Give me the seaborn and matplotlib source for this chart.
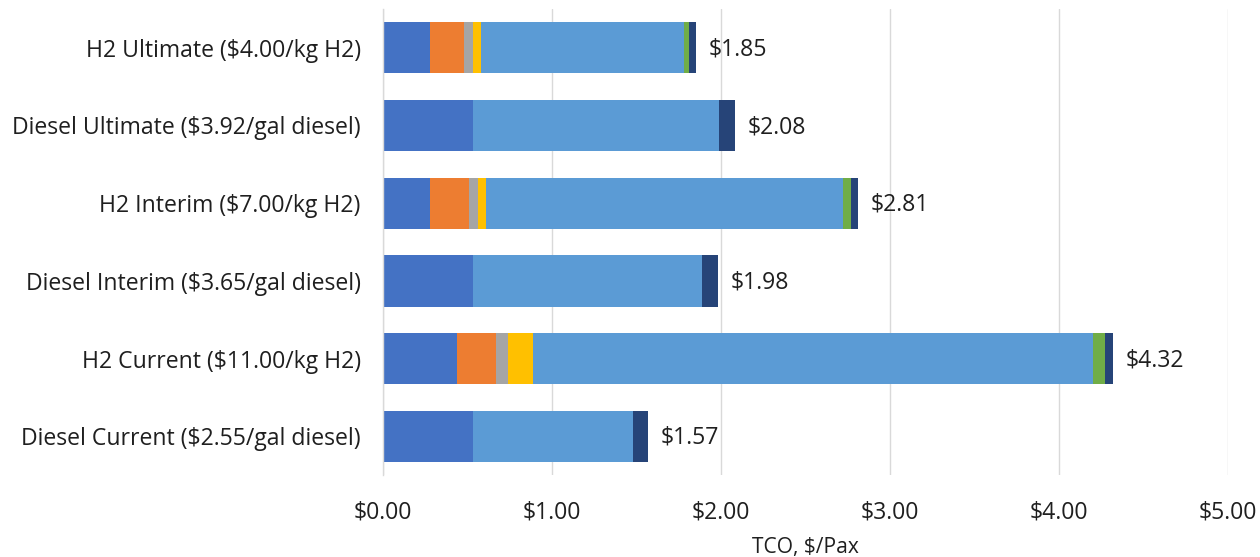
import numpy as np
import pandas as pd
import matplotlib
matplotlib.use("Agg")
import matplotlib.pyplot as plt
import seaborn as sns

# Scenarios, top to bottom
scenarios = [
    "H2 Ultimate ($4.00/kg H2)",
    "Diesel Ultimate ($3.92/gal diesel)",
    "H2 Interim ($7.00/kg H2)",
    "Diesel Interim ($3.65/gal diesel)",
    "H2 Current ($11.00/kg H2)",
    "Diesel Current ($2.55/gal diesel)",
]

# Cost components, $/Pax
vehicle   = [0.28, 0.53, 0.28, 0.53, 0.44, 0.53]
fc_system = [0.20, 0.00, 0.23, 0.00, 0.23, 0.00]
storage   = [0.05, 0.00, 0.05, 0.00, 0.07, 0.00]
battery   = [0.05, 0.00, 0.05, 0.00, 0.15, 0.00]
fuel      = [1.20, 1.46, 2.11, 1.36, 3.31, 0.95]
infra     = [0.03, 0.00, 0.05, 0.00, 0.07, 0.00]
maint     = [0.04, 0.09, 0.04, 0.09, 0.05, 0.09]
totals    = [1.85, 2.08, 2.81, 1.98, 4.32, 1.57]

x_ticks = [0, 1, 2, 3, 4, 5]
x_tick_labels = ["$0.00", "$1.00", "$2.00", "$3.00", "$4.00", "$5.00"]

components = [vehicle, fc_system, storage, battery, fuel, infra, maint]
colors = ["#4472C4", "#ED7D31", "#A5A5A5", "#FFC000", "#5B9BD5", "#70AD47", "#264478"]

plt.rcParams["text.parse_math"] = False
sns.set_style("white")
plt.rcParams["font.family"] = ["Open Sans", "DejaVu Sans"]

FS = 16.6
TXT = "#1f1f1f"

fig = plt.figure(figsize=(12.6, 5.57), dpi=100)
ax = fig.add_axes([0.304, 0.147, 0.6706, 0.837])

# Stacked bars: draw cumulative sums from the outermost layer inward
cum = np.cumsum(np.array(components), axis=0)
for i in range(len(components) - 1, -1, -1):
    df = pd.DataFrame({"scenario": scenarios, "value": cum[i]})
    sns.barplot(data=df, x="value", y="scenario", orient="h", color=colors[i],
                saturation=1, width=0.66, linewidth=0, ax=ax, zorder=2)

for j, t in enumerate(totals):
    ax.text(t + 0.075, j + 0.02, f"${t:.2f}", va="center", ha="left",
            fontsize=FS, color=TXT)

ax.set_xlim(0, 5)
ax.set_ylim(5.5, -0.5)
ax.set_xticks(x_ticks)
ax.set_xticklabels(x_tick_labels, fontsize=FS, color=TXT)
ax.tick_params(axis="y", labelsize=FS, labelcolor=TXT, length=0, pad=16)
ax.tick_params(axis="x", length=0, pad=18)
ax.set_ylabel("")
ax.set_xlabel("TCO, $/Pax", fontsize=FS - 1.5, color=TXT, labelpad=9)

ax.grid(axis="x", color="#D9D9D9", linewidth=1, zorder=0)
ax.set_axisbelow(True)
for s in ["top", "right", "bottom"]:
    ax.spines[s].set_visible(False)
ax.spines["left"].set_color("#D9D9D9")
ax.spines["left"].set_linewidth(1)

fig.savefig("out.png", dpi=100)
